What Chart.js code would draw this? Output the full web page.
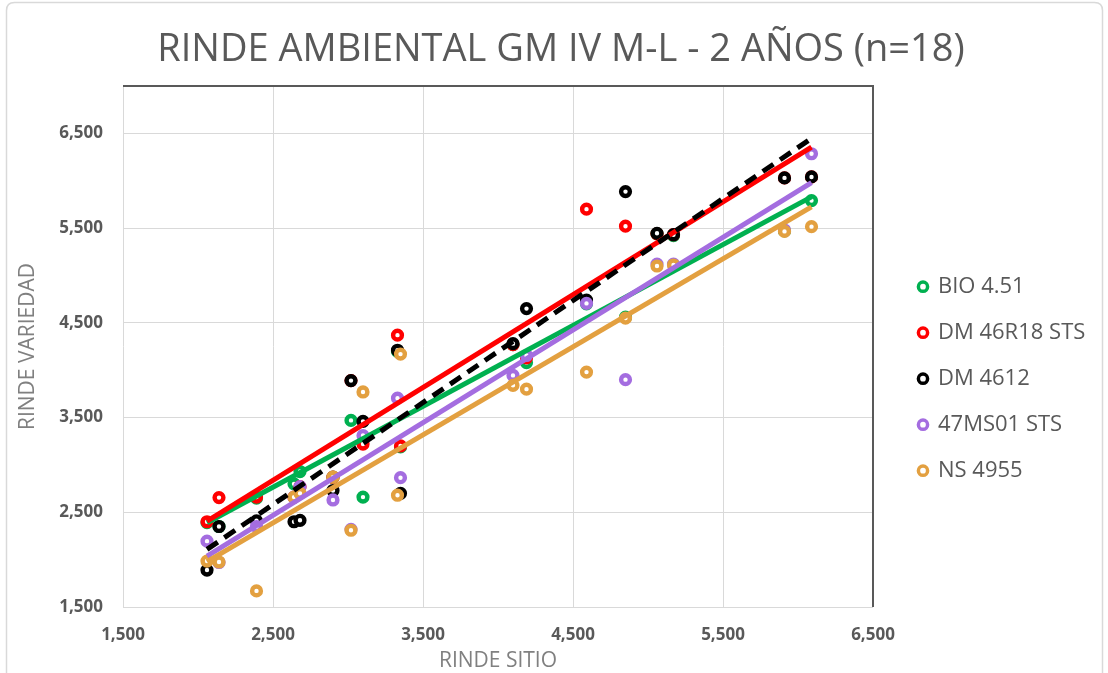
<!DOCTYPE html>
<html>
<head>
<meta charset="utf-8">
<script src="https://cdn.jsdelivr.net/npm/chart.js@4.4.0/dist/chart.umd.min.js"></script>
<style>
  html, body { margin: 0; padding: 0; background: #ffffff; }
  #wrap { width: 1108px; height: 673px; position: relative; }
</style>
</head>
<body>
<div id="wrap"><canvas id="c" width="1108" height="673"></canvas></div>
<script>
// ---- Data ----
const chartTitle = 'RINDE AMBIENTAL GM IV M-L - 2 AÑOS (n=18)';
const xAxisTitle = 'RINDE SITIO';
const yAxisTitle = 'RINDE VARIEDAD';
const seriesNames = ['BIO 4.51', 'DM 46R18 STS', 'DM 4612', '47MS01 STS', 'NS 4955'];
const seriesColors = ['#00B050', '#FF0000', '#000000', '#A46DE0', '#E3A040'];

// site mean yield (x) for the 18 environments
const sites = [2060, 2140, 2390, 2640, 2680, 2900, 3020, 3100, 3330, 3350, 4100, 4190, 4590, 4850, 5060, 5170, 5910, 6090];

const bio451   = [2390, 2350, 2650, 2800, 2930, 2870, 3470, 2660, 4200, 3190, 4270, 4080, 4700, 4560, 5440, 5420, 5470, 5790];
const dm46r18  = [2400, 2655, 2660, 2660, 2770, 2870, 3890, 3220, 4370, 3200, 4270, 4130, 5700, 5520, 5440, 5430, 6030, 6040];
const dm4612   = [1890, 2350, 2410, 2400, 2415, 2730, 3890, 3460, 4210, 2700, 4280, 4650, 4740, 5885, 5445, 5430, 6030, 6040];
const ms01     = [2195, 1970, 2350, 2660, 2770, 2630, 2320, 3310, 3705, 2865, 3945, 4155, 4705, 3900, 5120, 5120, 5480, 6285];
const ns4955   = [1985, 1975, 1670, 2660, 2700, 2870, 2310, 3770, 2680, 4170, 3840, 3800, 3980, 4550, 5100, 5110, 5465, 5515];

// linear trendlines: y at the first and last site
const trendX      = [2060, 6090];
const bioTrend    = [2390, 5830];
const dm46Trend   = [2406, 6356];
const dm4612Trend = [2108, 6447];
const ms01Trend   = [2037, 5980];
const nsTrend     = [1979, 5724];

const xTicks = [1500, 2500, 3500, 4500, 5500, 6500];
const yTicks = [1500, 2500, 3500, 4500, 5500, 6500];

// ---- Build ----
const seriesValues = [bio451, dm46r18, dm4612, ms01, ns4955];
const trends = [bioTrend, dm46Trend, dm4612Trend, ms01Trend, nsTrend];

const FONT = '"Open Sans", "DejaVu Sans", sans-serif';
const legendFontSize = 22;
const legendPad = 24;
const legendBoxW = 8;
const gapAxisW = 22;
const PLOT_LEFT = 123, PLOT_RIGHT = 873, TITLE_CX = 561;
const yTitleSize = 21;

let padRight = 10;
let padLeft = 25;

const datasets = [];
seriesNames.forEach((name, i) => {
  datasets.push({
    label: name,
    data: sites.map((x, k) => ({ x: x, y: seriesValues[i][k] })),
    borderColor: seriesColors[i],
    backgroundColor: '#ffffff',
    pointRadius: 4.4,
    pointBorderWidth: 4.4,
    pointStyle: 'circle',
    borderWidth: 4,
    showLine: false,
    order: 20 - i
  });
});
seriesNames.forEach((name, i) => {
  datasets.push({
    label: name + ' trend',
    isTrend: true,
    data: trendX.map((x, k) => ({ x: x, y: trends[i][k] })),
    borderColor: seriesColors[i],
    backgroundColor: seriesColors[i],
    borderWidth: 5,
    borderDash: i === 2 ? [13, 8] : [],
    pointRadius: 0,
    showLine: true,
    order: 10 - i
  });
});

const fmt = v => Number(v).toLocaleString('en-US');

const framePlugin = {
  id: 'frame',
  beforeDraw(chart) {
    const c = chart.ctx;
    c.save();
    c.fillStyle = '#ffffff';
    c.fillRect(0, 0, chart.width, chart.height);
    c.strokeStyle = '#d9d9d9';
    c.lineWidth = 1.5;
    const x0 = 6.5, y0 = 2.5, x1 = 1102.5, y1 = 675, r = 8;
    c.beginPath();
    c.moveTo(x0 + r, y0);
    c.lineTo(x1 - r, y0);
    c.quadraticCurveTo(x1, y0, x1, y0 + r);
    c.lineTo(x1, y1);
    c.moveTo(x0, y1);
    c.lineTo(x0, y0 + r);
    c.quadraticCurveTo(x0, y0, x0 + r, y0);
    c.stroke();
    c.restore();
  },
  beforeDatasetsDraw(chart) {
    const a = chart.chartArea;
    const c = chart.ctx;
    c.save();
    c.strokeStyle = '#595959';
    c.lineWidth = 2;
    c.beginPath();
    c.moveTo(a.left, a.top);
    c.lineTo(a.right, a.top);
    c.lineTo(a.right, a.bottom);
    c.stroke();
    c.restore();
  }
};

const chart = new Chart(document.getElementById('c'), {
  type: 'scatter',
  data: { datasets: datasets },
  plugins: [framePlugin],
  options: {
    responsive: false,
    animation: false,
    devicePixelRatio: 1,
    layout: { padding: { left: padLeft, right: padRight, top: 0, bottom: 0 } },
    plugins: {
      tooltip: { enabled: false },
      title: {
        display: true,
        text: chartTitle,
        color: '#595959',
        font: { family: FONT, size: 38, weight: 'normal' },
        padding: { top: 27.5, bottom: 12.9 }
      },
      legend: {
        display: true,
        position: 'right',
        align: 'center',
        maxWidth: 400,
        title: { display: true, text: '', font: { size: 12 }, padding: { top: 35, bottom: 35 } },
        labels: {
          usePointStyle: true,
          pointStyle: 'circle',
          boxWidth: legendBoxW,
          boxHeight: 6.5,
          padding: legendPad,
          color: '#595959',
          font: { family: FONT, size: legendFontSize },
          generateLabels: (ch) => ch.data.datasets
            .map((ds, i) => ({
              text: ds.label,
              fillStyle: '#ffffff',
              strokeStyle: ds.borderColor,
              lineWidth: 3.5,
              pointStyle: 'circle',
              hidden: false,
              datasetIndex: i,
              fontColor: '#595959',
              isTrend: !!ds.isTrend
            }))
            .filter(it => !it.isTrend)
        }
      }
    },
    scales: {
      x: {
        type: 'linear',
        min: 1500,
        max: 6500,
        afterBuildTicks: (s) => { s.ticks = xTicks.map(v => ({ value: v })); },
        afterFit: (s) => { s.height = 66; },
        grid: { color: '#d9d9d9', lineWidth: 1, drawTicks: false },
        border: { display: false },
        ticks: {
          padding: 18,
          color: '#595959',
          font: { family: FONT, size: 17, weight: 'bold' },
          callback: (v) => fmt(v),
          maxRotation: 0
        },
        title: {
          display: true,
          text: xAxisTitle,
          color: '#808080',
          font: { family: FONT, size: 21 },
          padding: { top: 0, bottom: -1 }
        }
      },
      y: {
        type: 'linear',
        min: 1500,
        max: 7000,
        afterBuildTicks: (s) => { s.ticks = yTicks.map(v => ({ value: v })); },
        afterFit: (s) => { s.width = PLOT_LEFT - padLeft; },
        grid: { color: '#d9d9d9', lineWidth: 1, drawTicks: false },
        border: { display: false },
        ticks: {
          padding: 20,
          color: '#595959',
          font: { family: FONT, size: 17, weight: 'bold' },
          callback: (v) => fmt(v)
        },
        title: {
          display: true,
          text: yAxisTitle,
          color: '#808080',
          font: { family: FONT, size: yTitleSize },
          padding: { top: 28 - padLeft - yTitleSize * 0.6, bottom: 0 }
        }
      },
      gap: {
        type: 'linear',
        position: 'right',
        display: true,
        grid: { display: false },
        border: { display: false },
        ticks: { display: false },
        afterFit: (s) => { s.width = gapAxisW; }
      }
    }
  }
});

// second pass: pin the plot area to the reference position and centre the title
padRight = Math.max(0, padRight + (chart.chartArea.right - PLOT_RIGHT));
padLeft = Math.max(0, 2 * TITLE_CX - 1108 + padRight);
chart.options.layout.padding = { left: padLeft, right: padRight, top: 0, bottom: 0 };
chart.options.scales.y.afterFit = (s) => { s.width = PLOT_LEFT - padLeft; };
chart.options.scales.y.title.padding = { top: 28 - padLeft - yTitleSize * 0.6, bottom: 0 };
chart.update();
</script>
</body>
</html>
